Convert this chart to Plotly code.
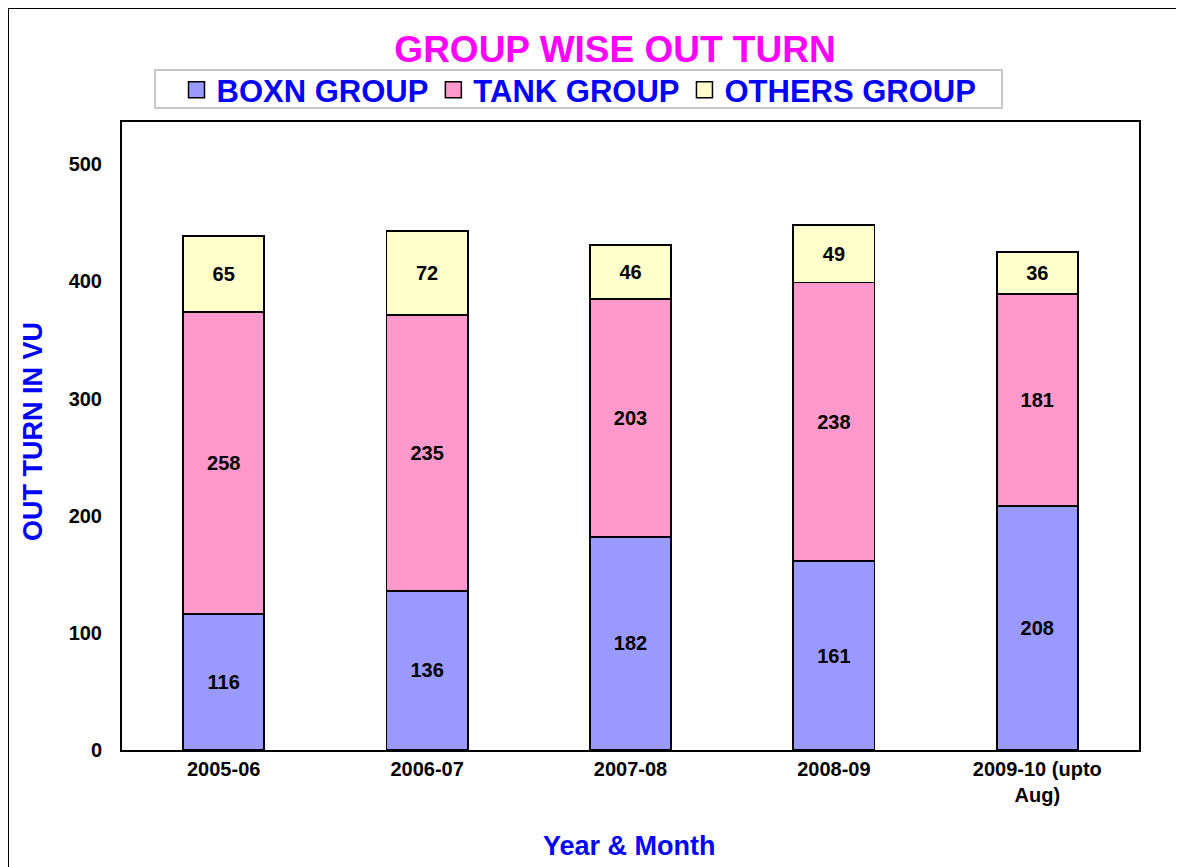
import plotly.graph_objects as go

categories = ["2005-06", "2006-07", "2007-08", "2008-09", "2009-10 (upto<br>Aug)"]
boxn = [116, 136, 182, 161, 208]
tank = [258, 235, 203, 238, 181]
others = [65, 72, 46, 49, 36]
series_names = ["BOXN GROUP", "TANK GROUP", "OTHERS GROUP"]
series_colors = ["#9999FF", "#FF99CC", "#FFFFCC"]
y_ticks = [0, 100, 200, 300, 400, 500]

FONT = "Liberation Sans, Arial, sans-serif"

fig = go.Figure()
for name, vals, col in zip(series_names, [boxn, tank, others], series_colors):
    fig.add_trace(go.Bar(
        x=categories, y=vals, name=name, showlegend=False,
        marker=dict(color=col, line=dict(color="black", width=1.8)),
        text=[str(v) for v in vals], textposition="inside",
        insidetextanchor="middle", textangle=0, constraintext="none",
        textfont=dict(family=FONT, size=20, color="black", weight="bold"),
        width=0.4,
    ))
# legend-only entries with larger square swatches
for name, col in zip(series_names, series_colors):
    fig.add_trace(go.Scatter(
        x=[None], y=[None], mode="markers", name=name,
        marker=dict(symbol="square", size=17, color=col,
                    line=dict(color="black", width=1.5)),
    ))

# page body has an 8px margin; design in reference pixel coords and shift
OFF = 8
W, H = 1184 - OFF, 867 - OFF
# plot area in reference coords: x 122..1139, y 122..750
PL, PR, PT, PB = 122, 1139, 122, 750
L, T = PL - OFF, PT - OFF
R = W - (PR - OFF)
B = H - (PB - OFF)
pw, ph = PR - PL, PB - PT

def px_x(x):
    return (x - PL) / pw

def px_y(y):
    return (PB - y) / ph

fig.update_layout(
    width=W, height=H,
    margin=dict(l=L, r=R, t=T, b=B),
    barmode="stack",
    paper_bgcolor="white", plot_bgcolor="white",
    title=dict(text="GROUP WISE OUT TURN", x=(615 - OFF) / W, xanchor="center",
               y=1 - (49 - OFF) / H, yanchor="middle",
               font=dict(family=FONT, size=37, color="#FF00FF", weight="bold")),
    legend=dict(orientation="h", x=px_x(579), xanchor="center", y=px_y(90), yanchor="middle",
                font=dict(family=FONT, size=31, color="#0000FF", weight="bold"),
                borderwidth=0, bgcolor="rgba(0,0,0,0)",
                traceorder="normal"),
    xaxis=dict(type="category", showline=True, linecolor="black", linewidth=2, mirror=True,
               ticks="", showgrid=False,
               tickfont=dict(family=FONT, size=20, color="black", weight="bold")),
    yaxis=dict(range=[0, 536], tickvals=y_ticks, showline=True, linecolor="black",
               linewidth=2, mirror=True, ticks="", showgrid=False, zeroline=False,
               ticklabelstandoff=14,
               tickfont=dict(family=FONT, size=20, color="black", weight="bold")),
    showlegend=True,
)

fig.add_annotation(text="OUT TURN IN VU", xref="paper", yref="paper",
                   x=px_x(33), y=px_y(432), textangle=-90, showarrow=False,
                   xanchor="center", yanchor="middle",
                   font=dict(family=FONT, size=27, color="#0000FF", weight="bold"))
fig.add_annotation(text="Year &amp; Month", xref="paper", yref="paper",
                   x=px_x(629), y=px_y(846), showarrow=False,
                   xanchor="center", yanchor="middle",
                   font=dict(family=FONT, size=27, color="#0000FF", weight="bold"))

# legend box
fig.add_shape(type="rect", xref="paper", yref="paper", x0=px_x(155), x1=px_x(1002),
              y0=px_y(108), y1=px_y(70), line=dict(color="#C8C8C8", width=2),
              fillcolor="white", layer="below")

# outer chart frame
fig.add_shape(type="line", xref="paper", yref="paper", x0=px_x(8), x1=px_x(8),
              y0=px_y(8), y1=px_y(880), line=dict(color="black", width=2))
fig.add_shape(type="line", xref="paper", yref="paper", x0=px_x(8), x1=px_x(1183),
              y0=px_y(8), y1=px_y(8), line=dict(color="black", width=2))
fig.add_shape(type="line", xref="paper", yref="paper", x0=px_x(1182), x1=px_x(1182),
              y0=px_y(8), y1=px_y(880), line=dict(color="#C8C8C8", width=1))

fig.write_html("out.html")
